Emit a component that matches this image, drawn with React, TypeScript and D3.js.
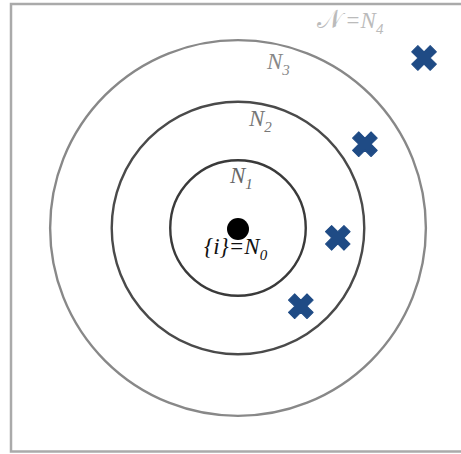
import * as d3 from "d3";

// ring radii (in neighbourhood units) and their labels
const ringRadii = [1.1, 2.05, 3.05];
const ringLabels = ["1", "2", "3"];
const ringColors = ["#3a3a3a", "#4a4a4a", "#888"];

// far-away nodes marked with crosses
const crossX = [3.02, 2.06, 1.62, 1.02];
const crossY = [2.76, 1.36, -0.16, -1.27];

const W = 461;
const H = 454;

export default function App() {
  const unit = 61.6;
  const cx = 238;
  const cy = 228;
  const x = d3.scaleLinear().domain([-4, 4]).range([cx - 4 * unit, cx + 4 * unit]);
  const y = d3.scaleLinear().domain([-4, 4]).range([cy + 4 * unit, cy - 4 * unit]);
  const r = (v: number) => x(v) - x(0);

  const cross = d3.symbol().type(d3.symbolCross).size(380)() || "";
  const serif = "'Liberation Serif', 'DejaVu Serif', serif";

  const labelPos = [
    { x: 230, y: 183, color: "#666" },
    { x: 249, y: 126, color: "#777" },
    { x: 267, y: 69, color: "#888" },
  ];

  return (
    <div style={{ position: "fixed", left: 0, top: 0 }}>
      <svg width={W} height={H} style={{ display: "block", background: "#fff" }}>
        <rect x={11} y={4} width={480} height={447.5} fill="none" stroke="#aaa" strokeWidth={2.5} />
        {ringRadii.map((v, i) => (
          <circle key={i} cx={x(0)} cy={y(0)} r={r(v)} fill="none" stroke={ringColors[i]} strokeWidth={2.4} />
        ))}
        <circle cx={x(0)} cy={y(0) + 1} r={11} fill="#000" />
        {crossX.map((v, i) => (
          <path
            key={i}
            d={cross}
            transform={`translate(${x(v)},${y(crossY[i])}) rotate(45)`}
            fill="#1f4b85"
            stroke="#1f4b85"
            strokeWidth={1}
            strokeLinejoin="round"
          />
        ))}
        {ringLabels.map((s, i) => (
          <text key={s} x={labelPos[i].x} y={labelPos[i].y} fontFamily={serif} fontStyle="italic" fontSize={23} fill={labelPos[i].color}>
            N<tspan fontSize={15} dy={6}>{s}</tspan>
          </text>
        ))}
        <text x={204} y={254} fontFamily={serif} fontStyle="italic" fontSize={23} fill="#111">
          {"{i}=N"}<tspan fontSize={15} dy={6}>0</tspan>
        </text>
        <text x={317} y={28} fontFamily={serif} fontStyle="italic" fontSize={23} fill="#bbb">
          <tspan fontSize={26} fontStyle="normal">{"𝒩"}</tspan>
          <tspan dx={3}>{"=N"}</tspan>
          <tspan fontSize={15} dy={6}>4</tspan>
        </text>
      </svg>
    </div>
  );
}
